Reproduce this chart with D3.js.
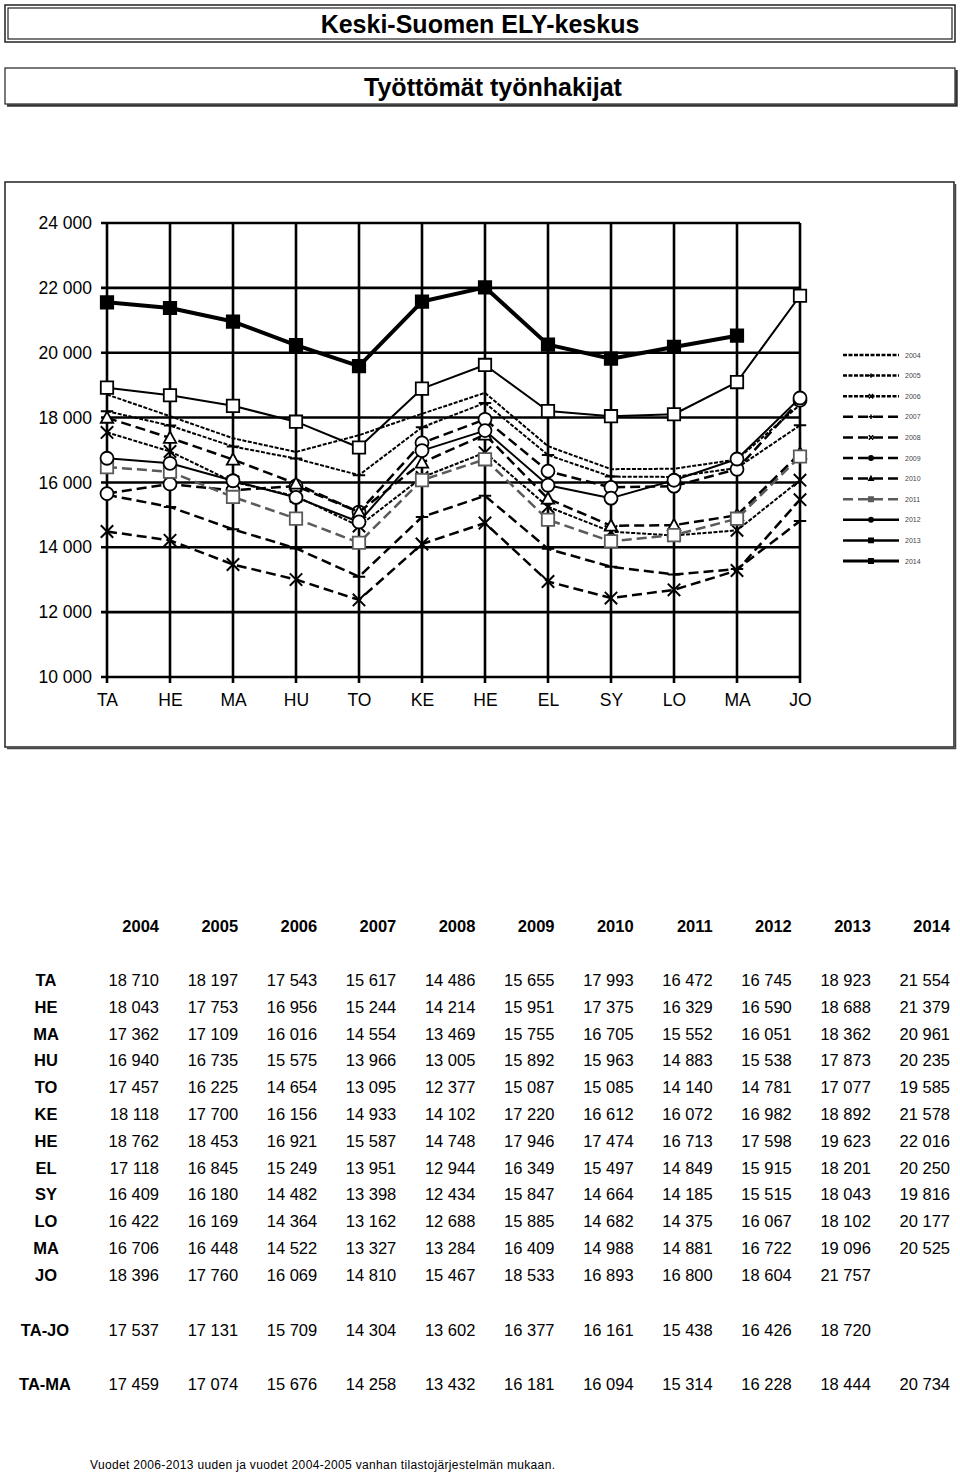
<!DOCTYPE html>
<html><head><meta charset="utf-8">
<script src="https://cdn.jsdelivr.net/npm/d3@7"></script>
<style>body{margin:0;background:#fff;}svg{display:block;font-family:"Liberation Sans",Arial,sans-serif;}</style>
</head><body>
<svg id="c" width="960" height="1473"></svg>
<script>
const months = ["TA","HE","MA","HU","TO","KE","HE","EL","SY","LO","MA","JO"];
const years = [2004,2005,2006,2007,2008,2009,2010,2011,2012,2013,2014];
const yTicks = [10000,12000,14000,16000,18000,20000,22000,24000];

const v2004 = [18710,18043,17362,16940,17457,18118,18762,17118,16409,16422,16706,18396];
const v2005 = [18197,17753,17109,16735,16225,17700,18453,16845,16180,16169,16448,17760];
const v2006 = [17543,16956,16016,15575,14654,16156,16921,15249,14482,14364,14522,16069];
const v2007 = [15617,15244,14554,13966,13095,14933,15587,13951,13398,13162,13327,14810];
const v2008 = [14486,14214,13469,13005,12377,14102,14748,12944,12434,12688,13284,15467];
const v2009 = [15655,15951,15755,15892,15087,17220,17946,16349,15847,15885,16409,18533];
const v2010 = [17993,17375,16705,15963,15085,16612,17474,15497,14664,14682,14988,16893];
const v2011 = [16472,16329,15552,14883,14140,16072,16713,14849,14185,14375,14881,16800];
const v2012 = [16745,16590,16051,15538,14781,16982,17598,15915,15515,16067,16722,18604];
const v2013 = [18923,18688,18362,17873,17077,18892,19623,18201,18043,18102,19096,21757];
const v2014 = [21554,21379,20961,20235,19585,21578,22016,20250,19816,20177,20525,null];

const avgTaJo = [17537,17131,15709,14304,13602,16377,16161,15438,16426,18720,null];
const avgTaMa = [17459,17074,15676,14258,13432,16181,16094,15314,16228,18444,20734];

const seriesValues = [v2004,v2005,v2006,v2007,v2008,v2009,v2010,v2011,v2012,v2013,v2014];
const styles = [
  {dash:"4,1.5", w:2, color:"#000", marker:null},
  {dash:"4,1.5", w:2, color:"#000", marker:"plus"},
  {dash:"4,1.5", w:2, color:"#000", marker:"times"},
  {dash:"10,5", w:2.5, color:"#000", marker:"plus"},
  {dash:"10,5", w:2.5, color:"#000", marker:"times"},
  {dash:"10,5", w:2.5, color:"#000", marker:"circle"},
  {dash:"10,5", w:2.5, color:"#000", marker:"triangle"},
  {dash:"10,5", w:2.5, color:"#5a5a5a", marker:"square"},
  {dash:null, w:2, color:"#000", marker:"circle"},
  {dash:null, w:2, color:"#000", marker:"square"},
  {dash:null, w:4, color:"#000", marker:"fsquare"}
];

const svg = d3.select("#c");
const fmt = v => v == null ? "" : d3.format(",")(v).replace(/,/g," ");

// Title boxes
svg.append("rect").attr("x",5).attr("y",5).attr("width",950).attr("height",37).attr("fill","#fff").attr("stroke","#222").attr("stroke-width",1.5);
svg.append("rect").attr("x",8).attr("y",8).attr("width",944).attr("height",31).attr("fill","none").attr("stroke","#222").attr("stroke-width",1.2);
svg.append("text").attr("x",480).attr("y",33).attr("text-anchor","middle").attr("font-size",25).attr("font-weight","bold").text("Keski-Suomen ELY-keskus");

svg.append("rect").attr("x",5).attr("y",68).attr("width",950).attr("height",36).attr("fill","#fff").attr("stroke","#222").attr("stroke-width",1.2);
svg.append("path").attr("d","M7,105.5 H956.5 V70").attr("fill","none").attr("stroke","#333").attr("stroke-width",2.5);
svg.append("text").attr("x",493).attr("y",96).attr("text-anchor","middle").attr("font-size",25).attr("font-weight","bold").text("Työttömät työnhakijat");

// Chart box
svg.append("rect").attr("x",5).attr("y",182).attr("width",949).attr("height",565).attr("fill","#fff").attr("stroke","#222").attr("stroke-width",1.5);
svg.append("path").attr("d","M7,748.5 H955.5 V184").attr("fill","none").attr("stroke","#444").attr("stroke-width",1.5);

const x = d3.scalePoint().domain(d3.range(months.length)).range([107,800]);
const y = d3.scaleLinear().domain([10000,24000]).range([677,223]);

const g = svg.append("g");
// grid
g.append("g").selectAll("line").data(yTicks).join("line")
  .attr("x1",101).attr("x2",800).attr("y1",d=>y(d)).attr("y2",d=>y(d))
  .attr("stroke","#000").attr("stroke-width",2.6);
g.append("g").selectAll("line").data(d3.range(months.length)).join("line")
  .attr("x1",d=>x(d)).attr("x2",d=>x(d)).attr("y1",y(24000)).attr("y2",683)
  .attr("stroke","#000").attr("stroke-width",2.6);

// axes labels
const yAxis = d3.axisLeft(y).tickValues(yTicks).tickSize(0).tickPadding(0).tickFormat(fmt);
const ya = g.append("g").attr("transform","translate(92,0)").call(yAxis);
ya.select(".domain").remove();
ya.selectAll("text").attr("font-size",17.5).attr("fill","#000").attr("font-family","'Liberation Sans',Arial,sans-serif");

const xAxis = d3.axisBottom(x).tickSize(0).tickPadding(0).tickFormat(i=>months[i]);
const xa = g.append("g").attr("transform","translate(0,694)").call(xAxis);
xa.select(".domain").remove();
xa.selectAll("text").attr("font-size",17.5).attr("fill","#000").attr("font-family","'Liberation Sans',Arial,sans-serif");

function markerPath(type, s){
  switch(type){
    case "square": case "fsquare": return `M${-s},${-s}H${s}V${s}H${-s}Z`;
    case "circle": return `M${s},0A${s},${s} 0 1 1 ${-s},0A${s},${s} 0 1 1 ${s},0Z`;
    case "triangle": return `M0,${-s}L${s},${s*0.8}L${-s},${s*0.8}Z`;
    case "times": return `M${-s},${-s}L${s},${s}M${-s},${s}L${s},${-s}`;
    case "plus": return `M${-s},0H${s}M0,${-s}V${s}`;
  }
  return "";
}

const line = d3.line().defined(d=>d.v!=null).x(d=>x(d.i)).y(d=>y(d.v));
seriesValues.forEach((vals, k) => {
  const st = styles[k];
  const data = vals.map((v,i)=>({i,v}));
  g.append("path").datum(data).attr("d",line).attr("fill","none")
    .attr("stroke",st.color).attr("stroke-width",st.w)
    .attr("stroke-dasharray",st.dash).attr("stroke-linejoin","round");
  if(st.marker){
    const s = st.marker==="circle"?6.5:6.2;
    g.append("g").selectAll("path").data(data.filter(d=>d.v!=null)).join("path")
      .attr("transform",d=>`translate(${x(d.i)},${y(d.v)})`)
      .attr("d",markerPath(st.marker,s))
      .attr("fill", st.marker==="fsquare"?"#000":(st.marker==="times"||st.marker==="plus"?"none":"#fff"))
      .attr("stroke",st.color).attr("stroke-width", st.marker==="times"||st.marker==="plus"?2:1.8);
  }
});

// legend
const lg = svg.append("g");
years.forEach((yr,k)=>{
  const st = styles[k];
  const ly = 355 + k*20.6;
  lg.append("line").attr("x1",843).attr("x2",899).attr("y1",ly).attr("y2",ly)
    .attr("stroke",st.color).attr("stroke-width",st.w===4?3:2.5).attr("stroke-dasharray",st.dash);
  if(st.marker){
    lg.append("path").attr("transform",`translate(871,${ly})`).attr("d",markerPath(st.marker,2.2))
      .attr("fill",st.marker==="times"||st.marker==="plus"?"none":st.color).attr("stroke",st.color).attr("stroke-width",1.5);
  }
  lg.append("text").attr("x",905).attr("y",ly+2.5).attr("font-size",7).attr("fill","#444").text(yr);
});

// table
const colRight = years.map((d,i)=>159 + i*79.1);
const tb = svg.append("g").attr("font-size",16.5).attr("fill","#000");
tb.selectAll("text.h").data(years).join("text").attr("class","h")
  .attr("x",(d,i)=>colRight[i]).attr("y",932).attr("text-anchor","end").attr("font-weight","bold").text(d=>d);
months.forEach((m,r)=>{
  const ry = 986 + r*26.8;
  tb.append("text").attr("x",46).attr("y",ry).attr("text-anchor","middle").attr("font-weight","bold").text(m);
  tb.append("g").selectAll("text").data(seriesValues.map(s=>s[r])).join("text")
    .attr("x",(d,i)=>colRight[i]).attr("y",ry).attr("text-anchor","end").text(d=>fmt(d));
});
[["TA-JO",avgTaJo,1336],["TA-MA",avgTaMa,1390]].forEach(([lab,vals,ry])=>{
  tb.append("text").attr("x",45).attr("y",ry).attr("text-anchor","middle").attr("font-weight","bold").text(lab);
  tb.append("g").selectAll("text").data(vals).join("text")
    .attr("x",(d,i)=>colRight[i]).attr("y",ry).attr("text-anchor","end").text(d=>fmt(d));
});

svg.append("text").attr("x",90).attr("y",1469).attr("font-size",12).attr("textLength",465).attr("lengthAdjust","spacing")
  .text("Vuodet 2006-2013 uuden ja vuodet 2004-2005 vanhan tilastojärjestelmän mukaan.");
</script>
</body></html>
